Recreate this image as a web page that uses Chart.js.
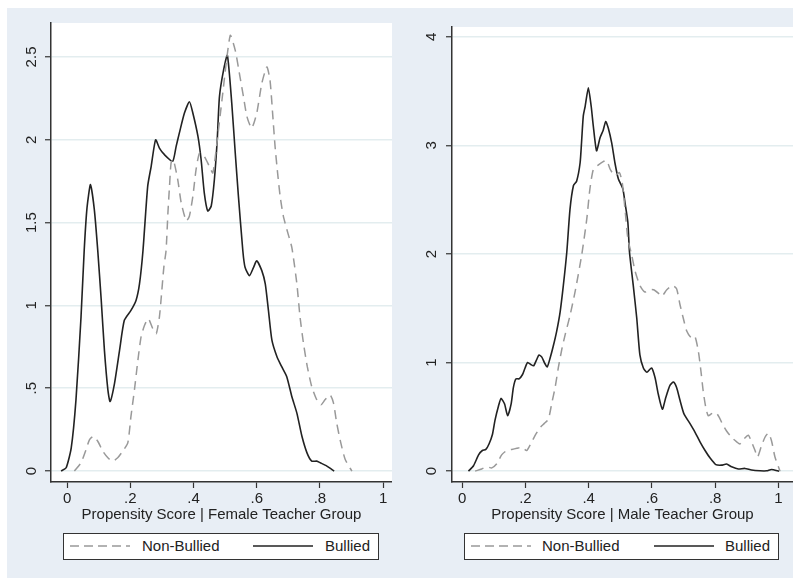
<!DOCTYPE html>
<html>
<head>
<meta charset="utf-8">
<script src="https://cdn.jsdelivr.net/npm/chart.js@4.4.1/dist/chart.umd.min.js"></script>
<style>
  body { margin: 0; width: 793px; height: 578px; background: #fff; position: relative; overflow: hidden;
         font-family: "Liberation Sans", Arial, sans-serif; }
  .panel { position: absolute; top: 8px; height: 570px; background: #e8eef5; }
  #p1 { left: 7px; width: 385px; }
  #p2 { left: 392px; width: 401px; }
  .plot { position: absolute; left: 0; top: 0; width: 100%; height: 100%; }
  .legend { position: absolute; top: 525px; height: 27px; box-sizing: border-box; background: #fff;
            border: 1.5px solid #333; font-size: 15px; color: #222; }
  #p1 .legend { left: 56px; width: 316px; }
  #p2 .legend { left: 72px; width: 315px; }
  .legend svg { position: absolute; top: 6px; }
  .legend span { position: absolute; top: 4px; line-height: 16px; }
</style>
</head>
<body>
<div class="panel" id="p1">
  <div class="plot"><canvas id="c1"></canvas></div>
  <div class="legend">
    <svg style="left:6px" width="60" height="12"><line x1="0" y1="6" x2="60" y2="6" stroke="#999" stroke-width="1.5" stroke-dasharray="9 5"/></svg>
    <span style="left:78px">Non-Bullied</span>
    <svg style="left:189px" width="60" height="12"><line x1="0" y1="6" x2="60" y2="6" stroke="#222" stroke-width="1.6"/></svg>
    <span style="left:261px">Bullied</span>
  </div>
</div>
<div class="panel" id="p2">
  <div class="plot"><canvas id="c2"></canvas></div>
  <div class="legend">
    <svg style="left:6px" width="60" height="12"><line x1="0" y1="6" x2="60" y2="6" stroke="#999" stroke-width="1.5" stroke-dasharray="9 5"/></svg>
    <span style="left:77px">Non-Bullied</span>
    <svg style="left:189px" width="60" height="12"><line x1="0" y1="6" x2="60" y2="6" stroke="#222" stroke-width="1.6"/></svg>
    <span style="left:260px">Bullied</span>
  </div>
</div>
<script>
// series labels
const seriesNames = ['Non-Bullied', 'Bullied'];

// female teacher group, bullied (solid)
const femBulliedX = [-0.019, -0.003, 0.013, 0.028, 0.044, 0.054, 0.063, 0.074, 0.086, 0.097, 0.108, 0.118, 0.129, 0.136, 0.150, 0.166, 0.181, 0.202, 0.218, 0.229, 0.240, 0.255, 0.266, 0.280, 0.292, 0.308, 0.334, 0.345, 0.355, 0.371, 0.387, 0.398, 0.414, 0.424, 0.434, 0.445, 0.456, 0.466, 0.475, 0.482, 0.495, 0.507, 0.521, 0.532, 0.542, 0.556, 0.563, 0.577, 0.590, 0.600, 0.616, 0.627, 0.637, 0.648, 0.664, 0.679, 0.695, 0.711, 0.727, 0.743, 0.759, 0.774, 0.790, 0.801, 0.822, 0.845];
const femBulliedY = [0, 0.02, 0.14, 0.43, 0.93, 1.33, 1.59, 1.73, 1.58, 1.33, 1.03, 0.73, 0.49, 0.42, 0.53, 0.73, 0.91, 0.97, 1.03, 1.13, 1.33, 1.72, 1.84, 2.00, 1.95, 1.91, 1.87, 1.96, 2.04, 2.16, 2.23, 2.16, 2.02, 1.88, 1.68, 1.57, 1.60, 1.76, 2.00, 2.26, 2.42, 2.51, 2.22, 1.92, 1.66, 1.33, 1.23, 1.18, 1.23, 1.27, 1.21, 1.13, 0.97, 0.79, 0.69, 0.63, 0.57, 0.45, 0.35, 0.21, 0.11, 0.06, 0.06, 0.05, 0.03, 0];

// female teacher group, non-bullied (dashed)
const femNonX = [0.023, 0.044, 0.060, 0.071, 0.083, 0.097, 0.113, 0.129, 0.144, 0.160, 0.176, 0.192, 0.202, 0.213, 0.224, 0.234, 0.245, 0.257, 0.271, 0.282, 0.292, 0.297, 0.306, 0.313, 0.319, 0.324, 0.329, 0.336, 0.350, 0.361, 0.377, 0.387, 0.398, 0.408, 0.419, 0.434, 0.450, 0.461, 0.474, 0.490, 0.516, 0.532, 0.547, 0.558, 0.569, 0.584, 0.600, 0.616, 0.632, 0.642, 0.651, 0.658, 0.666, 0.674, 0.684, 0.695, 0.711, 0.727, 0.737, 0.748, 0.760, 0.774, 0.790, 0.803, 0.816, 0.832, 0.843, 0.853, 0.866, 0.880, 0.901];
const femNonY = [0, 0.05, 0.13, 0.19, 0.21, 0.18, 0.12, 0.08, 0.06, 0.08, 0.12, 0.17, 0.33, 0.49, 0.67, 0.81, 0.88, 0.92, 0.86, 0.83, 0.93, 1.03, 1.23, 1.33, 1.56, 1.72, 1.86, 1.88, 1.76, 1.62, 1.51, 1.54, 1.66, 1.82, 1.92, 1.90, 1.84, 1.80, 1.98, 2.24, 2.63, 2.54, 2.38, 2.26, 2.14, 2.07, 2.16, 2.34, 2.44, 2.36, 2.14, 1.96, 1.80, 1.66, 1.54, 1.46, 1.35, 1.13, 0.93, 0.77, 0.63, 0.51, 0.43, 0.40, 0.43, 0.46, 0.41, 0.29, 0.17, 0.07, 0];

// male teacher group, bullied (solid)
const maleBulliedX = [0.020, 0.036, 0.052, 0.064, 0.075, 0.085, 0.096, 0.104, 0.115, 0.123, 0.134, 0.144, 0.155, 0.162, 0.170, 0.180, 0.191, 0.199, 0.207, 0.218, 0.226, 0.236, 0.243, 0.252, 0.260, 0.269, 0.278, 0.288, 0.299, 0.310, 0.320, 0.331, 0.341, 0.352, 0.362, 0.373, 0.378, 0.383, 0.389, 0.399, 0.408, 0.415, 0.425, 0.436, 0.446, 0.454, 0.462, 0.473, 0.483, 0.494, 0.508, 0.515, 0.524, 0.529, 0.541, 0.552, 0.562, 0.573, 0.584, 0.599, 0.610, 0.620, 0.633, 0.644, 0.657, 0.668, 0.678, 0.689, 0.701, 0.720, 0.736, 0.752, 0.768, 0.784, 0.802, 0.820, 0.836, 0.852, 0.873, 0.894, 0.915, 0.942, 0.963, 0.978, 1.002];
const maleBulliedY = [0, 0.05, 0.15, 0.19, 0.20, 0.25, 0.34, 0.47, 0.60, 0.67, 0.62, 0.51, 0.62, 0.77, 0.85, 0.85, 0.89, 0.95, 1.00, 0.98, 0.97, 1.03, 1.07, 1.05, 1.00, 0.96, 1.04, 1.15, 1.29, 1.47, 1.71, 2.02, 2.41, 2.63, 2.67, 2.84, 3.05, 3.27, 3.36, 3.53, 3.36, 3.17, 2.95, 3.07, 3.14, 3.22, 3.16, 3.02, 2.84, 2.69, 2.60, 2.47, 2.29, 2.02, 1.71, 1.41, 1.07, 0.95, 0.91, 0.95, 0.86, 0.71, 0.57, 0.68, 0.79, 0.82, 0.77, 0.65, 0.53, 0.44, 0.36, 0.27, 0.19, 0.12, 0.06, 0.055, 0.065, 0.04, 0.02, 0.025, 0.01, 0.003, 0.003, 0.015, 0];

// male teacher group, non-bullied (dashed)
const maleNonX = [0.041, 0.062, 0.078, 0.094, 0.110, 0.125, 0.141, 0.157, 0.173, 0.189, 0.204, 0.220, 0.233, 0.246, 0.260, 0.273, 0.283, 0.294, 0.304, 0.315, 0.326, 0.340, 0.357, 0.378, 0.394, 0.404, 0.415, 0.431, 0.446, 0.457, 0.468, 0.483, 0.497, 0.506, 0.515, 0.524, 0.536, 0.547, 0.562, 0.578, 0.589, 0.605, 0.620, 0.631, 0.647, 0.665, 0.678, 0.689, 0.699, 0.710, 0.724, 0.736, 0.747, 0.755, 0.762, 0.770, 0.778, 0.789, 0.802, 0.812, 0.822, 0.836, 0.852, 0.868, 0.878, 0.892, 0.905, 0.915, 0.926, 0.934, 0.945, 0.957, 0.968, 0.978, 0.989, 1.005];
const maleNonY = [0, 0.02, 0.04, 0.03, 0.07, 0.15, 0.19, 0.20, 0.21, 0.22, 0.19, 0.27, 0.34, 0.40, 0.44, 0.48, 0.62, 0.77, 0.95, 1.12, 1.26, 1.42, 1.65, 1.99, 2.32, 2.60, 2.78, 2.82, 2.85, 2.86, 2.78, 2.72, 2.75, 2.66, 2.41, 2.14, 1.99, 1.84, 1.71, 1.65, 1.67, 1.67, 1.64, 1.61, 1.67, 1.71, 1.68, 1.53, 1.41, 1.29, 1.23, 1.24, 1.10, 0.92, 0.74, 0.59, 0.51, 0.53, 0.54, 0.50, 0.44, 0.37, 0.31, 0.27, 0.25, 0.30, 0.33, 0.27, 0.19, 0.13, 0.22, 0.31, 0.35, 0.28, 0.13, 0];

// tick labels
const xTicks = [0, 0.2, 0.4, 0.6, 0.8, 1];
const femYTicks = [0, 0.5, 1, 1.5, 2, 2.5];
const maleYTicks = [0, 1, 2, 3, 4];

Chart.defaults.font.family = '"Liberation Sans", Arial, sans-serif';
Chart.defaults.font.size = 15;
Chart.defaults.color = '#222';

function pts(xs, ys) {
  return xs.map((x, i) => ({ x: x, y: ys[i] }));
}

// stata-ish number format: .2 instead of 0.2
function fmt(v) {
  return String(v).replace(/^0\./, '.');
}

// white plot region
const plotBg = {
  id: 'plotBg',
  beforeDraw(chart) {
    const a = chart.chartArea;
    chart.ctx.save();
    chart.ctx.fillStyle = '#fff';
    chart.ctx.fillRect(a.left, a.top, a.right - a.left, a.bottom - a.top);
    chart.ctx.restore();
  }
};

function makeChart(id, nonPts, bulPts, o) {
  new Chart(document.getElementById(id), {
    type: 'line',
    data: {
      datasets: [
        { label: seriesNames[0], data: nonPts, borderColor: '#999', borderWidth: 1.5, borderDash: [9, 6], pointRadius: 0, tension: 0.2 },
        { label: seriesNames[1], data: bulPts, borderColor: '#222', borderWidth: 1.6, pointRadius: 0, tension: 0.2 }
      ]
    },
    options: {
      responsive: true,
      maintainAspectRatio: false,
      animation: false,
      layout: { padding: { top: 15, bottom: 54, left: 0, right: 0 } },
      plugins: { legend: { display: false }, tooltip: { enabled: false } },
      scales: {
        x: {
          type: 'linear',
          min: o.xMin, max: o.xMax,
          afterBuildTicks: s => { s.ticks = xTicks.map(v => ({ value: v })); },
          afterFit: s => { s.height = 42; },
          ticks: { callback: v => fmt(v), padding: 2, maxRotation: 0, autoSkip: false },
          grid: { drawOnChartArea: false, tickColor: '#333', tickLength: 6, tickWidth: 1.2 },
          border: { color: '#333', width: 1.5 },
          title: { display: true, text: o.title, padding: { top: 0, bottom: 0 }, font: { size: 15 } }
        },
        y: {
          min: o.yMin, max: o.yMax,
          afterBuildTicks: s => { s.ticks = o.yTicks.map(v => ({ value: v })); },
          afterFit: s => { s.width = o.yWidth; },
          ticks: { callback: v => fmt(v), minRotation: 90, maxRotation: 90, crossAlign: 'center', padding: o.yPad, autoSkip: false },
          grid: { color: '#e3edef', lineWidth: 1.5, tickColor: '#333', tickLength: 6, tickWidth: 1.2 },
          border: { color: '#333', width: 1.5 }
        }
      }
    },
    plugins: [plotBg]
  });
}

makeChart('c1', pts(femNonX, femNonY), pts(femBulliedX, femBulliedY), {
  xMin: -0.051, xMax: 1.028, yMin: -0.066, yMax: 2.705, yTicks: femYTicks,
  yWidth: 44, yPad: 3, title: 'Propensity Score | Female Teacher Group'
});
makeChart('c2', pts(maleNonX, maleNonY), pts(maleBulliedX, maleBulliedY), {
  xMin: -0.032, xMax: 1.046, yMin: -0.1, yMax: 4.09, yTicks: maleYTicks,
  yWidth: 60, yPad: 10, title: 'Propensity Score | Male Teacher Group'
});
</script>
</body>
</html>
